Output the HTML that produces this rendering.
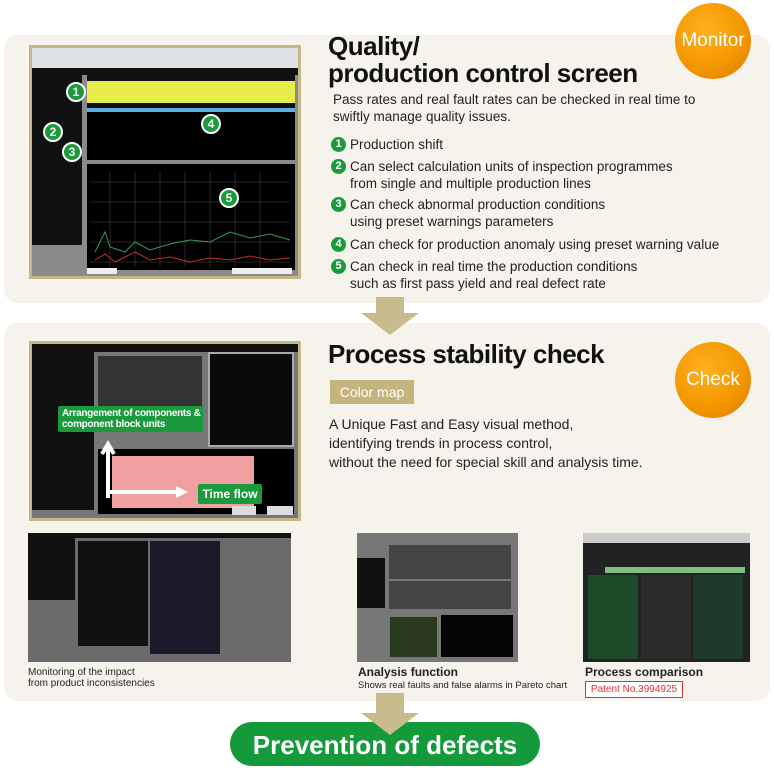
<!DOCTYPE html>
<html><head><meta charset="utf-8"><style>
*{margin:0;padding:0;box-sizing:border-box}
body{width:774px;height:770px;background:#fff;position:relative;overflow:hidden;font-family:"Liberation Sans",sans-serif;color:#222}
.abs{position:absolute}
.panel{position:absolute;left:4px;width:766px;background:#f6f3ec;border-radius:14px}
.h1{position:absolute;font-weight:bold;font-size:26px;letter-spacing:-0.5px;line-height:31px;color:#111;white-space:nowrap}
.t{position:absolute;font-size:13.5px;line-height:17px;color:#222;white-space:nowrap}
.num{position:absolute;width:15px;height:15px;border-radius:50%;background:#1a9a3c;color:#fff;font-size:11px;font-weight:bold;text-align:center;line-height:15px}
.circ{position:absolute;width:76px;height:76px;border-radius:50%;background:radial-gradient(circle at 40% 35%,#ffb020,#f39800 55%,#e07800);color:#fff;font-size:19px;text-align:center;line-height:76px}
.g{position:absolute;width:20px;height:20px;border-radius:50%;background:#1a9a3c;border:2px solid #fff;color:#fff;font-size:12px;font-weight:bold;text-align:center;line-height:16px}
.arrow{position:absolute;width:0;height:0;border-left:29px solid transparent;border-right:29px solid transparent;border-top:22px solid #c9bc8c}
.stem{position:absolute;background:#c9bc8c}
</style></head><body>

<div class="panel" style="top:35px;height:268px"></div>
<div class="panel" style="top:323px;height:378px"></div>

<div class="stem" style="left:376px;top:297px;width:28px;height:18px"></div>
<div class="arrow" style="left:361px;top:313px"></div>
<div class="stem" style="left:376px;top:693px;width:28px;height:22px"></div>
<div class="arrow" style="left:361px;top:713px;z-index:2"></div>

<!-- screenshot 1 -->
<div class="abs" style="left:29px;top:45px;width:272px;height:234px;background:#c5b78a;padding:3px">
 <div style="position:relative;width:100%;height:100%;background:#8a8a8a;overflow:hidden">
  <div class="abs" style="left:0;top:0;width:266px;height:20px;background:#dfe3e8"></div>
  <div class="abs" style="left:0;top:20px;width:266px;height:7px;background:#111"></div>
  <div class="abs" style="left:0;top:27px;width:50px;height:170px;background:#111"></div>
  <div class="abs" style="left:55px;top:27px;width:208px;height:43px;background:#111"></div>
  <div class="abs" style="left:55px;top:33px;width:208px;height:22px;background:#e6ec4a"></div>
  <div class="abs" style="left:55px;top:60px;width:208px;height:4px;background:#5ab0e0"></div>
  <div class="abs" style="left:55px;top:64px;width:208px;height:48px;background:#000"></div>
  <div class="abs" style="left:55px;top:116px;width:208px;height:106px;background:#000"></div>
  <svg class="abs" style="left:58px;top:124px" width="202" height="100">
   <g stroke="#444" stroke-width="0.6">
    <line x1="0" y1="10" x2="200" y2="10"/><line x1="0" y1="30" x2="200" y2="30"/><line x1="0" y1="50" x2="200" y2="50"/><line x1="0" y1="70" x2="200" y2="70"/><line x1="0" y1="90" x2="200" y2="90"/>
    <line x1="20" y1="0" x2="20" y2="95"/><line x1="45" y1="0" x2="45" y2="95"/><line x1="70" y1="0" x2="70" y2="95"/><line x1="95" y1="0" x2="95" y2="95"/><line x1="120" y1="0" x2="120" y2="95"/><line x1="145" y1="0" x2="145" y2="95"/><line x1="170" y1="0" x2="170" y2="95"/>
   </g>
   <polyline fill="none" stroke="#3a9a5a" stroke-width="1" points="5,80 15,60 20,75 35,80 45,70 60,78 80,72 100,68 120,70 140,60 160,66 180,62 200,68"/>
   <polyline fill="none" stroke="#c03030" stroke-width="1" points="5,88 15,82 25,90 35,85 45,80 60,88 80,85 100,90 120,86 140,88 160,84 180,88 200,86"/>
  </svg>
  <div class="abs" style="left:55px;top:220px;width:30px;height:6px;background:#eee"></div>
  <div class="abs" style="left:200px;top:220px;width:60px;height:6px;background:#eee"></div>
 </div>
</div>
<div class="g" style="left:66px;top:82px">1</div>
<div class="g" style="left:43px;top:122px">2</div>
<div class="g" style="left:62px;top:142px">3</div>
<div class="g" style="left:201px;top:114px">4</div>
<div class="g" style="left:219px;top:188px">5</div>

<div class="h1" style="left:328px;top:31px">Quality/</div>
<div class="h1" style="left:328px;top:58px">production control screen</div>
<div class="circ" style="left:675px;top:3px">Monitor</div>
<div class="t" style="left:333px;top:91px">Pass rates and real fault rates can be checked in real time to<br>swiftly manage quality issues.</div>
<div class="num" style="left:331px;top:137px">1</div><div class="t" style="left:350px;top:136px">Production shift</div>
<div class="num" style="left:331px;top:159px">2</div><div class="t" style="left:350px;top:158px">Can select calculation units of inspection programmes<br>from single and multiple production lines</div>
<div class="num" style="left:331px;top:197px">3</div><div class="t" style="left:350px;top:196px">Can check abnormal production conditions<br>using preset warnings parameters</div>
<div class="num" style="left:331px;top:237px">4</div><div class="t" style="left:350px;top:236px">Can check for production anomaly using preset warning value</div>
<div class="num" style="left:331px;top:259px">5</div><div class="t" style="left:350px;top:258px">Can check in real time the production conditions<br>such as first pass yield and real defect rate</div>

<!-- screenshot 2 -->
<div class="abs" style="left:29px;top:341px;width:272px;height:180px;background:#c5b78a;padding:3px">
 <div style="position:relative;width:100%;height:100%;background:#777;overflow:hidden">
  <div class="abs" style="left:0;top:0;width:266px;height:8px;background:#111"></div>
  <div class="abs" style="left:0;top:8px;width:62px;height:158px;background:#111"></div>
  <div class="abs" style="left:66px;top:12px;width:104px;height:50px;background:#333"></div>
  <div class="abs" style="left:176px;top:8px;width:86px;height:95px;background:#0a0a0a;border:2px solid #aaa"></div>
  <div class="abs" style="left:66px;top:105px;width:196px;height:65px;background:#000"></div>
  <div class="abs" style="left:80px;top:112px;width:142px;height:52px;background:#f0a0a0"></div>
  <div class="abs" style="left:200px;top:162px;width:24px;height:9px;background:#ddd"></div>
  <div class="abs" style="left:235px;top:162px;width:26px;height:9px;background:#ddd"></div>
 </div>
</div>
<svg class="abs" style="left:100px;top:440px" width="100" height="60"><path d="M8,58 V8 M2,14 L8,4 L14,14" stroke="#fff" stroke-width="4" fill="none"/><path d="M8,52 H80" stroke="#fff" stroke-width="4"/><path d="M76,46 L88,52 L76,58Z" fill="#fff"/></svg>
<div class="abs" style="left:58px;top:406px;width:145px;height:26px;background:#1a9a3c;color:#fff;font-size:10px;font-weight:bold;line-height:11px;padding:2px 4px;border-radius:2px;white-space:nowrap;letter-spacing:-0.3px">Arrangement of components &amp;<br>component block units</div>
<div class="abs" style="left:198px;top:484px;width:64px;height:20px;background:#1a9a3c;color:#fff;font-size:12px;font-weight:bold;line-height:20px;text-align:center;border-radius:2px">Time flow</div>

<div class="h1" style="left:328px;top:339px">Process stability check</div>
<div class="circ" style="left:675px;top:342px">Check</div>
<div class="abs" style="left:330px;top:380px;width:84px;height:24px;background:#c5b57d;color:#fff;font-size:14px;line-height:24px;text-align:center">Color map</div>
<div class="t" style="left:329px;top:415px;font-size:14px;line-height:19px">A Unique Fast and Easy visual method,<br>identifying trends in process control,<br>without the need for special skill and analysis time.</div>

<!-- bottom images -->
<div class="abs" style="left:28px;top:533px;width:263px;height:129px;background:#6b6b6b;overflow:hidden">
 <div class="abs" style="left:0;top:0;width:263px;height:5px;background:#111"></div>
 <div class="abs" style="left:0;top:5px;width:47px;height:62px;background:#111"></div>
 <div class="abs" style="left:50px;top:8px;width:70px;height:105px;background:#111"></div>
 <div class="abs" style="left:122px;top:8px;width:70px;height:113px;background:#1a1a2a"></div>
</div>
<div class="abs" style="left:357px;top:533px;width:161px;height:129px;background:#777;overflow:hidden">
 <div class="abs" style="left:32px;top:12px;width:122px;height:34px;background:#444"></div>
 <div class="abs" style="left:32px;top:48px;width:122px;height:28px;background:#444"></div>
 <div class="abs" style="left:33px;top:84px;width:47px;height:40px;background:#2a3a1e"></div>
 <div class="abs" style="left:84px;top:82px;width:72px;height:42px;background:#050505"></div>
 <div class="abs" style="left:0;top:25px;width:28px;height:50px;background:#111"></div>
</div>
<div class="abs" style="left:583px;top:533px;width:167px;height:129px;background:#222;overflow:hidden">
 <div class="abs" style="left:0;top:0;width:167px;height:10px;background:#ccc"></div>
 <div class="abs" style="left:22px;top:34px;width:140px;height:6px;background:#7ec07e"></div>
 <div class="abs" style="left:5px;top:42px;width:50px;height:84px;background:#1f4a2a"></div>
 <div class="abs" style="left:58px;top:42px;width:50px;height:84px;background:#2b2b2b"></div>
 <div class="abs" style="left:110px;top:42px;width:50px;height:84px;background:#1e3a2a"></div>
</div>
<div class="t" style="left:28px;top:667px;font-size:10px;line-height:11px">Monitoring of the impact<br>from product inconsistencies</div>
<div class="t" style="left:358px;top:664px;font-size:12px;font-weight:bold">Analysis function</div>
<div class="t" style="left:358px;top:680px;font-size:9.5px;line-height:11px">Shows real faults and false alarms in Pareto chart</div>
<div class="t" style="left:585px;top:664px;font-size:12px;font-weight:bold">Process comparison</div>
<div class="abs" style="left:585px;top:681px;width:98px;height:17px;border:1px solid #e03030;background:#fff;color:#e03030;font-size:10px;line-height:15px;text-align:center">Patent No.3994925</div>

<div class="abs" style="left:230px;top:722px;width:310px;height:44px;border-radius:22px;background:#149a3a;color:#fff;font-weight:bold;font-size:26px;line-height:46px;text-align:center">Prevention of defects</div>
</body></html>
